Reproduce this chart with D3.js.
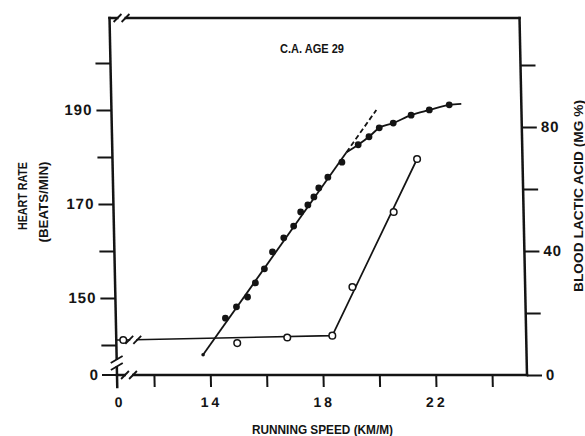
<!DOCTYPE html>
<html><head><meta charset="utf-8">
<script src="https://cdn.jsdelivr.net/npm/d3@7"></script>
<style>body{margin:0;background:#fff}</style>
</head><body>
<svg id="c" width="585" height="436"></svg>
<script>
// ---- data ----
const speedTicks = [12, 14, 16, 18, 20, 22, 24];
const speedLabels = [14, 18, 22];
const hrTicks = [140, 150, 160, 170, 180, 190, 200];
const hrLabels = [150, 170, 190];
const laTicks = [0, 20, 40, 60, 80, 100];
const laLabels = [0, 40, 80];

// heart rate (filled points)
const hrSpeed = [14.58, 14.98, 15.38, 15.67, 16.00, 16.30, 16.71, 17.07, 17.33, 17.59, 17.81, 17.99, 18.32, 18.83, 19.42, 19.81, 20.18, 20.68, 21.32, 21.97, 22.68];
const hrRate  = [145.7, 148.1, 150.2, 153.2, 156.2, 159.8, 162.8, 165.3, 168.3, 169.8, 171.5, 173.4, 175.7, 178.9, 182.6, 184.3, 186.2, 187.2, 188.9, 190.0, 191.1];
// straight fit (solid part then dashed extrapolation)
const hrFitSpeed = [13.76, 19.0, 20.09];
const hrFitRate  = [137.9, 181.0, 190.0];
// upper curved part
const hrCurveSpeed = [19.0, 19.42, 19.81, 20.18, 20.68, 21.32, 21.97, 22.68, 23.11];
const hrCurveRate  = [181.0, 182.6, 184.3, 186.2, 187.2, 188.9, 190.0, 191.1, 191.3];

// blood lactic acid (open points); speed 0 = rest
const laSpeed = [0, 14.98, 16.76, 18.36, 19.11, 20.63, 21.50];
const laValue = [11.3, 10.3, 12.1, 12.7, 28.4, 52.6, 69.7];
const laFitSpeed = [0, 18.36, 21.50];
const laFitValue = [11.3, 12.7, 69.7];

// ---- layout ----
const W = 585, H = 436;
const pLeft = 117, pRight = 527, pTop = 18, pBottom = 375;
const svg = d3.select("#c");
svg.append("rect").attr("width", W).attr("height", H).attr("fill", "#fff");

const x = d3.scaleLinear().domain([10.69, 25.24]).range([pLeft, pRight]);
const yHR = d3.scaleLinear().domain([133.6, 209.57]).range([pBottom, pTop]);
const yLA = d3.scaleLinear().domain([0, 115.2]).range([pBottom, pTop]);
const xPos = s => s === 0 ? pLeft + 7 : x(s);

const ink = "#141414";
const font = "'Liberation Sans', Arial, sans-serif";

const g = svg.append("g")
  .attr("transform", `translate(0,${pBottom}) skewX(1.2) translate(0,${-pBottom})`);

// ---- axes ----
function styleAxis(sel) {
  sel.select(".domain").remove();
  sel.selectAll(".tick line").attr("stroke", ink).attr("stroke-width", 2);
  sel.selectAll(".tick text").attr("fill", ink).attr("font-family", font)
    .attr("font-weight", "bold").attr("font-size", 15).attr("letter-spacing", 1);
}
g.append("g").attr("transform", `translate(0,${pBottom})`)
  .call(d3.axisBottom(x).tickValues(speedTicks).tickSize(12).tickPadding(10)
    .tickFormat(d => speedLabels.includes(d) ? d : ""))
  .call(styleAxis)
  .call(s => s.selectAll(".tick text").attr("font-size", 14).attr("letter-spacing", 3));

g.append("g").attr("transform", `translate(${pLeft},0)`)
  .call(d3.axisLeft(yHR).tickValues(hrTicks).tickSize(15).tickPadding(4)
    .tickFormat(d => hrLabels.includes(d) ? d : ""))
  .call(styleAxis);

g.append("g").attr("transform", `translate(${pRight},0)`)
  .call(d3.axisRight(yLA).tickValues(laTicks).tickSize(15).tickPadding(4)
    .tickFormat(d => laLabels.includes(d) ? d : ""))
  .call(styleAxis);

// broken-axis zero for heart rate and speed
g.append("line").attr("x1", pLeft - 15).attr("x2", pLeft).attr("y1", pBottom).attr("y2", pBottom)
  .attr("stroke", ink).attr("stroke-width", 2);
g.append("text").attr("x", pLeft - 19).attr("y", pBottom).attr("dy", "0.35em")
  .attr("text-anchor", "end").attr("font-family", font).attr("font-weight", "bold")
  .attr("font-size", 15).attr("fill", ink).text("0");
g.append("text").attr("x", pLeft + 1).attr("y", pBottom + 32)
  .attr("text-anchor", "middle").attr("font-family", font).attr("font-weight", "bold")
  .attr("font-size", 14).attr("fill", ink).text("0");

// frame
const frame = g.append("g").attr("fill", "none").attr("stroke", ink)
  .attr("stroke-width", 2.5).attr("stroke-linecap", "square");
frame.append("line").attr("x1", pLeft).attr("x2", pLeft).attr("y1", pTop).attr("y2", pBottom + 12);
frame.append("line").attr("x1", pLeft).attr("x2", pRight).attr("y1", pTop).attr("y2", pTop);
frame.append("line").attr("x1", pRight).attr("x2", pRight).attr("y1", pTop).attr("y2", pBottom);
frame.append("line").attr("x1", pLeft).attr("x2", pRight).attr("y1", pBottom).attr("y2", pBottom);

// break marks
function brk(cx, cy, onVertical) {
  const b = g.append("g");
  b.append("rect").attr("x", cx - 3).attr("y", cy - 3).attr("width", 6).attr("height", 6).attr("fill", "#fff");
  if (onVertical) {
    [-3.5, 3.5].forEach(o => b.append("line")
      .attr("x1", cx - 6).attr("y1", cy + o + 3.5).attr("x2", cx + 6).attr("y2", cy + o - 3.5)
      .attr("stroke", ink).attr("stroke-width", 1.8));
  } else {
    [-4, 4].forEach(o => b.append("line")
      .attr("x1", cx + o - 4).attr("y1", cy + 4).attr("x2", cx + o + 4).attr("y2", cy - 4)
      .attr("stroke", ink).attr("stroke-width", 1.8));
  }
}
brk(pLeft + 12, pTop, false);
brk(pLeft, pBottom - 12, true);
brk(pLeft + 12, pBottom, false);

// ---- lactic acid ----
const laPts = laFitSpeed.map((s, i) => [xPos(s), yLA(laFitValue[i])]);
laPts.unshift([pLeft, yLA(laFitValue[0])]);
g.append("path").attr("d", d3.line()(laPts)).attr("fill", "none")
  .attr("stroke", ink).attr("stroke-width", 1.7);
brk(pLeft + 17, yLA(laFitValue[0]) - 0.2, false);

g.selectAll("circle.la").data(laSpeed.map((s, i) => [s, laValue[i]])).join("circle")
  .attr("class", "la").attr("cx", d => xPos(d[0])).attr("cy", d => yLA(d[1])).attr("r", 3.3)
  .attr("fill", "#fff").attr("stroke", ink).attr("stroke-width", 1.5);

// ---- heart rate ----
const hrLine = d3.line().x(d => x(d[0])).y(d => yHR(d[1]));
const fit = hrFitSpeed.map((s, i) => [s, hrFitRate[i]]);
g.append("path").attr("d", hrLine(fit.slice(0, 2))).attr("fill", "none")
  .attr("stroke", ink).attr("stroke-width", 1.8);
g.append("path").attr("d", hrLine(fit.slice(1, 3))).attr("fill", "none")
  .attr("stroke", ink).attr("stroke-width", 1.8).attr("stroke-dasharray", "5,3");
g.append("circle").attr("cx", x(hrFitSpeed[0])).attr("cy", yHR(hrFitRate[0])).attr("r", 1.8).attr("fill", ink);
g.append("path")
  .attr("d", d3.line().x(d => x(d[0])).y(d => yHR(d[1])).curve(d3.curveMonotoneX)(hrCurveSpeed.map((s, i) => [s, hrCurveRate[i]])))
  .attr("fill", "none").attr("stroke", ink).attr("stroke-width", 1.8);

g.selectAll("circle.hr").data(hrSpeed.map((s, i) => [s, hrRate[i]])).join("circle")
  .attr("class", "hr").attr("cx", d => x(d[0])).attr("cy", d => yHR(d[1])).attr("r", 3.4)
  .attr("fill", ink);

// ---- titles ----
function label(txt, opts) {
  const t = svg.append("text").text(txt).attr("font-family", font).attr("font-weight", "bold")
    .attr("font-size", opts.size).attr("fill", ink).attr("text-anchor", "middle")
    .attr("textLength", opts.len).attr("lengthAdjust", "spacingAndGlyphs");
  if (opts.rot) t.attr("transform", `translate(${opts.x},${opts.y}) rotate(-90)`);
  else t.attr("x", opts.x).attr("y", opts.y);
  return t;
}
label("C.A. AGE 29", {x: 312, y: 53, size: 12, len: 64});
label("RUNNING SPEED (KM/M)", {x: 322.5, y: 434, size: 12, len: 141});
label("HEART RATE", {x: 27, y: 196, size: 12, len: 68, rot: true});
label("(BEATS/MIN)", {x: 48, y: 202, size: 12, len: 81, rot: true});
label("BLOOD LACTIC ACID (MG %)", {x: 583, y: 196, size: 13, len: 192, rot: true});
</script>
</body></html>
